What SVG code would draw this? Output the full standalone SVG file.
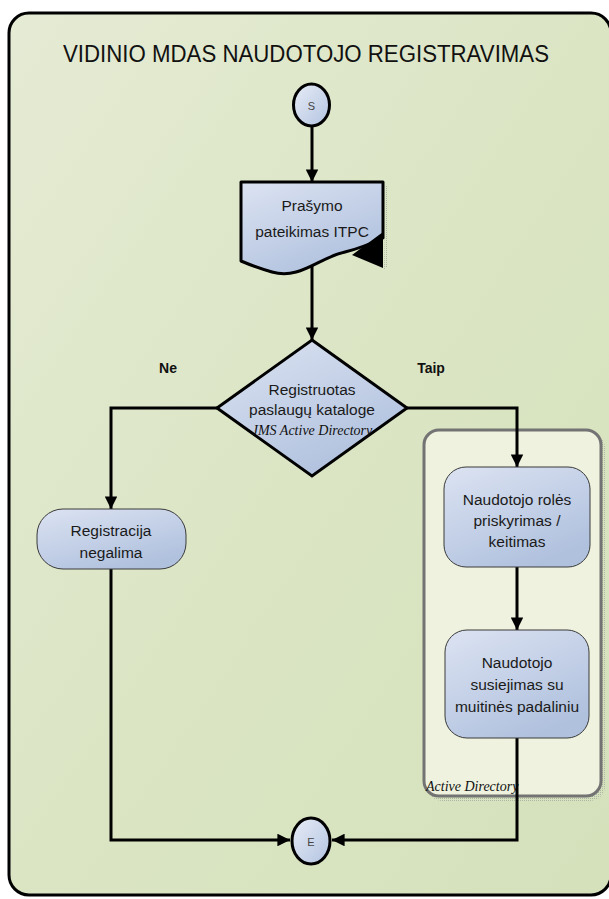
<svg xmlns="http://www.w3.org/2000/svg" width="609" height="899" viewBox="0 0 609 899">
<defs>
<linearGradient id="bg" x1="0" y1="0" x2="1" y2="1">
<stop offset="0" stop-color="#e5ebd4"/>
<stop offset="0.5" stop-color="#dbe5c4"/>
<stop offset="1" stop-color="#d5e1bb"/>
</linearGradient>
<linearGradient id="blue" x1="0" y1="0" x2="1" y2="1">
<stop offset="0" stop-color="#e8edf7"/>
<stop offset="1" stop-color="#b2c3e0"/>
</linearGradient>
<linearGradient id="blue2" x1="0" y1="0" x2="0.6" y2="1">
<stop offset="0" stop-color="#dce3f2"/>
<stop offset="1" stop-color="#b0c1de"/>
</linearGradient>
<marker id="arr" viewBox="0 0 10 10" refX="10" refY="5" markerWidth="4.6" markerHeight="4.2" orient="auto" markerUnits="strokeWidth">
<path d="M0,0 L10,5 L0,10 Z" fill="#000"/>
</marker>
<pattern id="dots" width="2" height="2" patternUnits="userSpaceOnUse">
<rect width="1" height="1" fill="#9aa39a"/>
</pattern>
</defs>
<style>
.t{font-family:"Liberation Sans",Arial,sans-serif;font-size:15.5px;fill:#1a1a1a;text-anchor:middle}
.i{font-family:"Liberation Serif","Times New Roman",serif;font-style:italic;font-size:14px;fill:#111}
.b{font-family:"Liberation Sans",Arial,sans-serif;font-size:14px;font-weight:bold;fill:#111;text-anchor:middle}
.c{stroke:#000;stroke-width:3;fill:none}
.box{fill:url(#blue2);stroke:#3a3a3a;stroke-width:1}
</style>
<g id="frame">
<rect x="9" y="13" width="602" height="882" rx="20" fill="url(#bg)" stroke="#000" stroke-width="3"/>
<text x="306" y="62" font-family="'Liberation Sans',Arial,sans-serif" font-size="23" fill="#111" text-anchor="middle" textLength="486" lengthAdjust="spacingAndGlyphs">VIDINIO MDAS NAUDOTOJO REGISTRAVIMAS</text>
</g>
<g id="pool">
<rect x="427" y="433" width="178" height="368" rx="15" fill="url(#dots)" opacity="0.7"/>
<rect x="424" y="430" width="177" height="366" rx="15" fill="#eef2de" stroke="#737373" stroke-width="3"/>
<text class="i" x="426" y="791">Active Directory</text>
</g>
<g id="connectors">
<line class="c" x1="312" y1="127" x2="312" y2="182" marker-end="url(#arr)"/>
<line class="c" x1="312" y1="262" x2="312" y2="340" marker-end="url(#arr)"/>
<polyline class="c" points="217,408 111,408 111,509" marker-end="url(#arr)"/>
<polyline class="c" points="407,408 517,408 517,467" marker-end="url(#arr)"/>
<line class="c" x1="517" y1="567" x2="517" y2="630" marker-end="url(#arr)"/>
<polyline class="c" points="111,569 111,840 290,840" marker-end="url(#arr)"/>
<polyline class="c" points="517,738 517,840 332,840" marker-end="url(#arr)"/>
</g>
<g id="labels">
<text class="b" x="168" y="373">Ne</text>
<text class="b" x="431" y="373">Taip</text>
</g>
<g id="start">
<ellipse cx="311.5" cy="105" rx="18" ry="21" fill="url(#blue)" stroke="#000" stroke-width="3"/>
<text x="311.5" y="110" font-family="'Liberation Sans',Arial,sans-serif" font-size="11" fill="#444" text-anchor="middle">S</text>
</g>
<g id="doc">
<path d="M386,186 H388 V266 L384,270 Z" fill="url(#dots)" opacity="0.7"/>
<path d="M241,182 H383 V238 C370,244 358,249 345,252 C318,258 300,280 272,272 C258,268 248,264 241,261 Z" fill="url(#blue2)" stroke="#000" stroke-width="3" stroke-linejoin="round"/>
<path d="M383,232 L383,268 L352,255 Z" fill="#000"/>
<text class="t" x="312" y="211">Prašymo</text>
<text class="t" x="312" y="237">pateikimas ITPC</text>
</g>
<g id="decision">
<path d="M312,340 L407,408 L312,476 L217,408 Z" fill="url(#blue2)" stroke="#000" stroke-width="3" stroke-linejoin="miter"/>
<text class="t" x="312" y="395">Registruotas</text>
<text class="t" x="312" y="415">paslaugų kataloge</text>
<text class="i" x="312" y="435" text-anchor="middle" font-size="14.5">JMS Active Directory</text>
</g>
<g id="nope">
<rect x="37" y="509" width="149" height="60" rx="26" class="box"/>
<text class="t" x="111" y="536">Registracija</text>
<text class="t" x="111" y="558">negalima</text>
</g>
<g id="role">
<rect x="444" y="467" width="146" height="100" rx="22" class="box"/>
<text class="t" x="517" y="505">Naudotojo rolės</text>
<text class="t" x="517" y="526">priskyrimas  /</text>
<text class="t" x="517" y="547">keitimas</text>
</g>
<g id="link">
<rect x="445" y="630" width="144" height="108" rx="22" class="box"/>
<text class="t" x="517" y="668">Naudotojo</text>
<text class="t" x="517" y="690">susiejimas su</text>
<text class="t" x="517" y="712">muitinės padaliniu</text>
</g>
<g id="end">
<ellipse cx="311" cy="841" rx="19" ry="23" fill="url(#blue)" stroke="#000" stroke-width="3"/>
<text x="311" y="846" font-family="'Liberation Sans',Arial,sans-serif" font-size="11" fill="#444" text-anchor="middle">E</text>
</g>
</svg>
